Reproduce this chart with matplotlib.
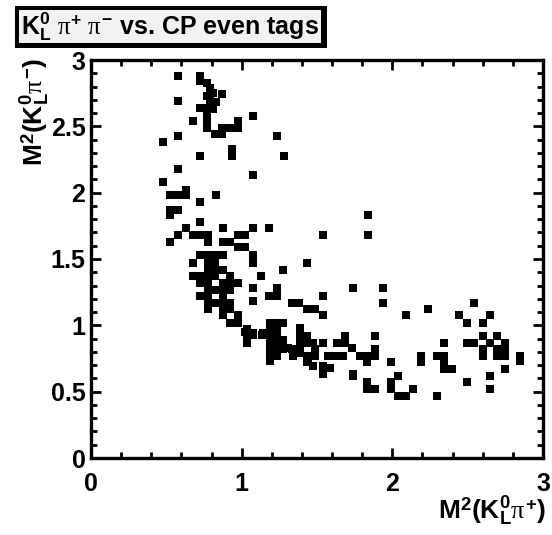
import numpy as np
import matplotlib
matplotlib.use("Agg")
import matplotlib.pyplot as plt
from matplotlib.patches import Rectangle
from matplotlib.ticker import MultipleLocator, FuncFormatter

plt.rcParams['font.family'] = ['Liberation Sans', 'DejaVu Sans']
plt.rcParams['mathtext.fontset'] = 'custom'
plt.rcParams['mathtext.rm'] = 'Liberation Sans:bold'
plt.rcParams['mathtext.bf'] = 'Liberation Sans:bold'
plt.rcParams['mathtext.it'] = 'Liberation Serif'

# M^2(KL pi+), M^2(KL pi-)
m2_plus = [
    # top cluster
    0.579, 0.723, 0.723, 0.768, 0.790, 0.812, 0.867, 0.768, 0.790, 0.829,
    0.723, 0.768, 0.812, 0.768, 0.768, 0.768, 0.823, 0.867, 0.867, 0.922,
    0.977, 0.977, 0.579, 0.679, 1.077, 1.232, 0.579, 0.476, 0.723, 0.934,
    0.934, 1.283, 0.579, 1.077, 0.476,
    # left band 1.6-2.0
    0.524, 0.579, 0.630, 0.630, 0.829, 0.723, 0.524, 0.579, 0.524, 0.723,
    0.630, 0.878, 1.077, 1.183, 1.538, 1.840, 1.840, 0.579, 0.524, 0.679,
    0.723, 0.778, 0.778, 0.878, 0.922, 0.977, 1.022, 0.977, 1.022, 1.077,
    1.077, 1.435, 1.276,
    # dense middle
    0.723, 0.778, 0.823, 0.878, 0.679, 0.778, 0.823, 0.778, 0.823, 0.878,
    0.679, 0.723, 0.778, 0.823, 0.922, 0.723, 0.778, 0.878, 0.922, 0.977,
    0.778, 0.823, 0.878, 0.922, 0.723, 0.778, 0.878, 0.778, 0.823, 0.878,
    0.922, 0.778, 0.878, 0.922, 0.878, 0.977, 0.922, 0.977, 1.128, 1.077,
    1.077, 1.232, 1.183, 1.232, 1.538, 1.332, 1.382, 1.431, 1.486, 1.538,
    1.741, 1.936, 1.936,
    # lower band
    1.033, 1.033, 1.033, 1.077, 1.143, 1.188, 1.232, 1.276, 1.188, 1.232,
    1.188, 1.232, 1.276, 1.188, 1.232, 1.276, 1.332, 1.188, 1.232, 1.387,
    1.431, 1.387, 1.475, 1.541, 1.342, 1.387, 1.442, 1.475, 1.541, 1.586,
    1.630, 1.541, 1.586, 1.022, 1.077, 1.133, 1.188, 1.232, 1.188, 1.188,
    1.188, 1.232, 1.276, 1.276, 1.309, 1.342, 1.387, 1.387, 1.431, 1.431,
    1.387, 1.431, 1.431, 1.486, 1.486, 1.575, 1.630, 1.674, 1.685, 1.685,
    1.730, 1.785, 1.829, 1.741, 1.829,
    # right part
    2.090, 2.238, 2.543, 2.444, 2.493, 2.648, 2.599, 1.885, 2.344, 2.493,
    2.543, 2.599, 2.599, 2.599, 2.648, 2.692, 2.747, 2.692, 2.747, 2.692,
    2.747, 2.847, 2.847, 1.885, 1.885, 1.829, 1.829, 1.991, 2.190, 2.190,
    2.294, 2.344, 2.344, 2.344, 2.393, 2.747, 2.648, 2.493, 2.648, 1.829,
    1.829, 1.885, 1.991, 2.039, 1.991, 2.039, 2.090, 2.139, 2.294, 1.741,
]
m2_minus = [
    2.88, 2.88, 2.84, 2.83, 2.79, 2.75, 2.74, 2.73, 2.69, 2.68,
    2.64, 2.64, 2.63, 2.58, 2.54, 2.49, 2.44, 2.44, 2.49, 2.49,
    2.54, 2.49, 2.69, 2.54, 2.58, 2.43, 2.43, 2.38, 2.28, 2.33,
    2.28, 2.28, 2.18, 2.13, 2.08,
    1.98, 1.98, 2.02, 1.98, 1.98, 1.93, 1.87, 1.87, 1.83, 1.78,
    1.73, 1.73, 1.73, 1.73, 1.68, 1.68, 1.83, 1.68, 1.63, 1.68,
    1.68, 1.68, 1.63, 1.63, 1.63, 1.68, 1.68, 1.59, 1.59, 1.53,
    1.47, 1.47, 1.42,
    1.53, 1.53, 1.53, 1.53, 1.47, 1.47, 1.47, 1.42, 1.42, 1.42,
    1.37, 1.37, 1.37, 1.37, 1.37, 1.32, 1.32, 1.32, 1.32, 1.32,
    1.27, 1.27, 1.27, 1.27, 1.22, 1.22, 1.22, 1.17, 1.17, 1.17,
    1.17, 1.12, 1.12, 1.12, 1.08, 1.08, 1.02, 1.02, 1.37, 1.28,
    1.18, 1.28, 1.22, 1.22, 1.22, 1.17, 1.17, 1.12, 1.12, 1.08,
    1.28, 1.28, 1.17,
    0.97, 0.92, 0.87, 0.94, 0.94, 1.02, 1.02, 1.02, 0.92, 0.92,
    0.87, 0.87, 0.87, 0.82, 0.82, 0.82, 0.82, 0.74, 0.77, 0.98,
    0.92, 0.87, 0.87, 0.87, 0.79, 0.79, 0.74, 0.69, 0.69, 0.77,
    0.87, 0.63, 0.68, 0.95, 0.93, 0.93, 0.97, 0.97, 0.84, 0.77,
    0.73, 0.84, 0.89, 0.83, 0.83, 0.77, 0.97, 0.92, 0.92, 0.87,
    0.83, 0.77, 0.72, 0.82, 0.77, 0.77, 0.77, 0.77, 0.92, 0.87,
    0.83, 0.77, 0.73, 0.63, 0.55,
    1.08, 1.12, 1.17, 1.08, 1.02, 1.08, 1.02, 0.92, 0.87, 0.87,
    0.87, 0.92, 0.82, 0.77, 0.87, 0.92, 0.87, 0.82, 0.82, 0.77,
    0.77, 0.77, 0.73, 0.82, 0.77, 0.77, 0.72, 0.72, 0.77, 0.72,
    0.77, 0.77, 0.72, 0.67, 0.67, 0.67, 0.62, 0.57, 0.52, 0.57,
    0.52, 0.52, 0.57, 0.62, 0.52, 0.47, 0.47, 0.52, 0.47, 0.62,
]

title = r'$\mathbf{K}_{\mathbf{L}}^{\mathbf{0}}\ \pi^{+}\ \pi^{-}$ vs. CP even tags'
xlab = r'$\mathbf{M}^{\mathbf{2}}\mathbf{(K}_{\mathbf{L}}^{\mathbf{0}}\pi^{+}\mathbf{)}$'
ylab = r'$\mathbf{M}^{\mathbf{2}}\mathbf{(K}_{\mathbf{L}}^{\mathbf{0}}\pi^{-}\mathbf{)}$'

fig = plt.figure(figsize=(5.52, 5.35), dpi=100)
ax = fig.add_axes([91/552, 77/535, 452/552, 398/535])
ax.plot(m2_plus, m2_minus, ls='none', marker='s', ms=5.8, mew=0, color='black')

ax.set_xlim(0, 3)
ax.set_ylim(0, 3)
ax.xaxis.set_major_locator(MultipleLocator(1))
ax.xaxis.set_minor_locator(MultipleLocator(0.2))
ax.yaxis.set_major_locator(MultipleLocator(0.5))
ax.yaxis.set_minor_locator(MultipleLocator(0.1))
ax.xaxis.set_major_formatter(FuncFormatter(lambda v, p: '%g' % v))
ax.yaxis.set_major_formatter(FuncFormatter(lambda v, p: '%g' % v))
ax.tick_params(which='both', direction='in', top=True, right=True, width=2, colors='black')
ax.tick_params(which='major', length=7, labelsize=18)
ax.tick_params(which='minor', length=4)
ax.tick_params(axis='x', pad=10)
ax.tick_params(axis='y', pad=4)
for lab in ax.get_xticklabels() + ax.get_yticklabels():
    lab.set_fontweight('bold')
for sp in ax.spines.values():
    sp.set_linewidth(2.4)

fig.text(546/552, 1 - 511/535, xlab, ha='right', va='center', fontsize=19)
fig.text(35/552, 1 - 58/535, ylab, ha='center', va='top', rotation=90, fontsize=19)

# title box with ROOT-style shadow
fig.patches.append(Rectangle((15/552, 1 - 48/535), 312/552, 42/535,
                             transform=fig.transFigure, fc='black', ec='none'))
fig.patches.append(Rectangle((19/552, 1 - 43/535), 302/552, 33/535,
                             transform=fig.transFigure, fc='#f2f2f2', ec='none'))
fig.text(170/552, 1 - 27/535, title, ha='center', va='center', fontsize=18, fontweight='bold')

fig.savefig('out.png', dpi=100)
